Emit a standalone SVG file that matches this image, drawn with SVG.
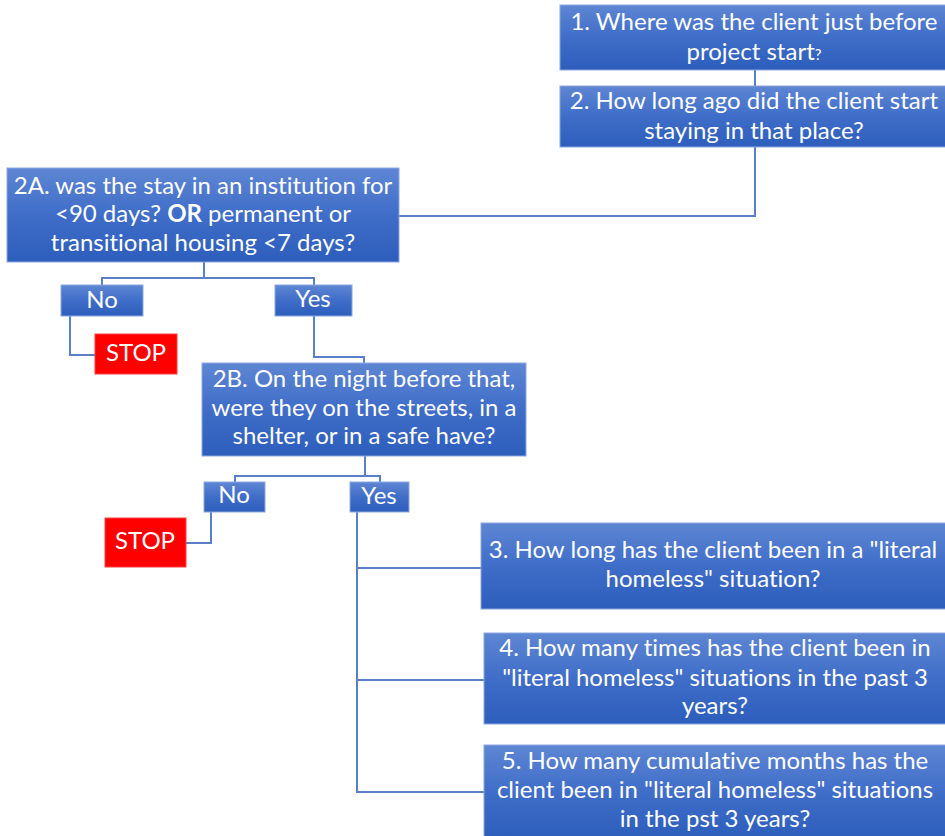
<svg xmlns="http://www.w3.org/2000/svg" width="945" height="836" viewBox="0 0 945 836">
<defs>
<linearGradient id="bg" x1="0" y1="0" x2="0" y2="1">
<stop offset="0" stop-color="#5E86D3"/>
<stop offset="0.5" stop-color="#3F6DC8"/>
<stop offset="1" stop-color="#2D5EBC"/>
</linearGradient>
<style>
.box{fill:url(#bg);stroke:#8CA8E0;stroke-width:1}
.stop{fill:#FF0000;stroke:#FF4040;stroke-width:1}
.t{font-family:Lato,"Open Sans","Liberation Sans",sans-serif;font-size:24px;fill:#FFFFFF;text-anchor:middle;font-variant-ligatures:none}
.c{fill:none;stroke:#5A7EC8;stroke-width:2}
</style>
</defs>
<rect width="945" height="836" fill="#FFFFFF"/>
<g id="connectors">
<path class="c" d="M755 70 V86"/>
<path class="c" d="M755 147 V216 H399"/>
<path class="c" d="M204 262 V278"/>
<path class="c" d="M102 285 V278 H314 V285"/>
<path class="c" d="M70 316 V355 H95"/>
<path class="c" d="M314 316 V357 H364 V363"/>
<path class="c" d="M365 456 V476"/>
<path class="c" d="M235 482 V476 H380 V482"/>
<path class="c" d="M211 512 V543 H186"/>
<path class="c" d="M357 512 V792 H484"/>
<path class="c" d="M357 568 H481"/>
<path class="c" d="M357 680 H484"/>
</g>
<g id="n1">
<rect class="box" x="560" y="5" width="390" height="65"/>
<text class="t" x="754" y="30">1. Where was the client just before</text>
<text class="t" x="754" y="60">project start<tspan font-size="15">?</tspan></text>
</g>
<g id="n2">
<rect class="box" x="560" y="86" width="390" height="61"/>
<text class="t" x="754" y="109">2. How long ago did the client start</text>
<text class="t" x="754" y="139">staying in that place?</text>
</g>
<g id="n2a">
<rect class="box" x="7" y="168" width="392" height="94"/>
<text class="t" x="203" y="194">2A. was the stay in an institution for</text>
<text class="t" x="203" y="222">&lt;90 days? <tspan font-weight="bold">OR</tspan> permanent or</text>
<text class="t" x="203" y="251">transitional housing &lt;7 days?</text>
</g>
<g id="no1">
<rect class="box" x="61" y="285" width="82" height="31"/>
<text class="t" x="102" y="308">No</text>
</g>
<g id="yes1">
<rect class="box" x="275" y="285" width="77" height="31"/>
<text class="t" x="313" y="307">Yes</text>
</g>
<g id="stop1">
<rect class="stop" x="95" y="334" width="82" height="40"/>
<text class="t" x="136" y="361">STOP</text>
</g>
<g id="n2b">
<rect class="box" x="202" y="363" width="324" height="93"/>
<text class="t" x="364" y="387">2B. On the night before that,</text>
<text class="t" x="364" y="416">were they on the streets, in a</text>
<text class="t" x="364" y="444">shelter, or in a safe have?</text>
</g>
<g id="no2">
<rect class="box" x="204" y="482" width="61" height="30"/>
<text class="t" x="234" y="503">No</text>
</g>
<g id="yes2">
<rect class="box" x="350" y="482" width="59" height="30"/>
<text class="t" x="379" y="504">Yes</text>
</g>
<g id="stop2">
<rect class="stop" x="105" y="518" width="81" height="49"/>
<text class="t" x="145" y="549">STOP</text>
</g>
<g id="n3">
<rect class="box" x="481" y="523" width="467" height="86"/>
<text class="t" x="713" y="558">3. How long has the client been in a "literal</text>
<text class="t" x="713" y="587">homeless" situation?</text>
</g>
<g id="n4">
<rect class="box" x="484" y="633" width="464" height="91"/>
<text class="t" x="715" y="656">4. How many times has the client been in</text>
<text class="t" x="715" y="686">"literal homeless" situations in the past 3</text>
<text class="t" x="715" y="714">years?</text>
</g>
<g id="n5">
<rect class="box" x="484" y="745" width="464" height="95"/>
<text class="t" x="715" y="769">5. How many cumulative months has the</text>
<text class="t" x="715" y="798">client been in "literal homeless" situations</text>
<text class="t" x="715" y="827">in the pst 3 years?</text>
</g>
</svg>
